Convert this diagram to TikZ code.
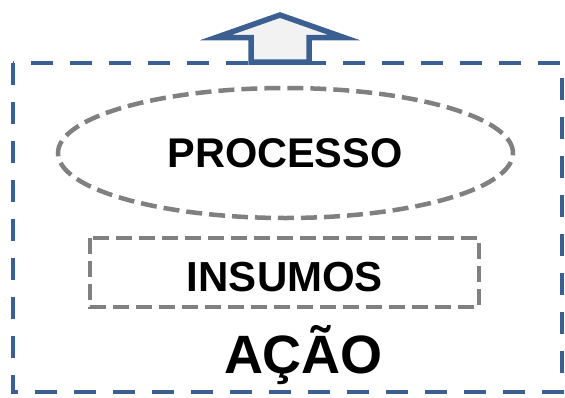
\documentclass[tikz,border=0pt]{standalone}
\usepackage{fontspec}
\setmainfont{Liberation Sans}
\usetikzlibrary{shapes.geometric}
\definecolor{dblue}{HTML}{3C5F92}
\definecolor{dgray}{HTML}{808080}
\definecolor{lfill}{HTML}{F2F2F2}
\tikzset{
  outerbox/.style={draw=dblue, line width=4.5pt, dash pattern=on 22pt off 17pt},
  grayline/.style={draw=dgray, line width=4.5pt, dash pattern=on 16pt off 7pt},
  lbl/.style={font=\bfseries, inner sep=0pt, anchor=base}
}
\begin{document}
\begin{tikzpicture}[x=1pt,y=-1pt]
\useasboundingbox (0,0) rectangle (565,397);
\draw[outerbox] (13,63) rectangle (562,392);
\draw[dblue, line width=5.5pt, fill=lfill, line join=miter]
  (280,15) -- (344,37.5) -- (309,37.5) -- (309,62) -- (251,62) -- (251,37.5) -- (216,37.5) -- cycle;
\node[grayline, ellipse, minimum width=455pt, minimum height=130pt] (proc) at (285.5,153) {};
\draw[grayline] (90,238) rectangle (479,307);
\coordinate (ins) at (284.5,272);
\node[lbl, font=\fontsize{41.5}{41.5}\selectfont\bfseries] (ptxt) at (285,167) {PROCESSO};
\node[lbl, font=\fontsize{42}{42}\selectfont\bfseries] (itxt) at (285,291) {INSUMOS};
\node[lbl, font=\fontsize{54}{54}\selectfont\bfseries] (atxt) at (303.5,373) {AÇÃO};
\end{tikzpicture}
\end{document}
